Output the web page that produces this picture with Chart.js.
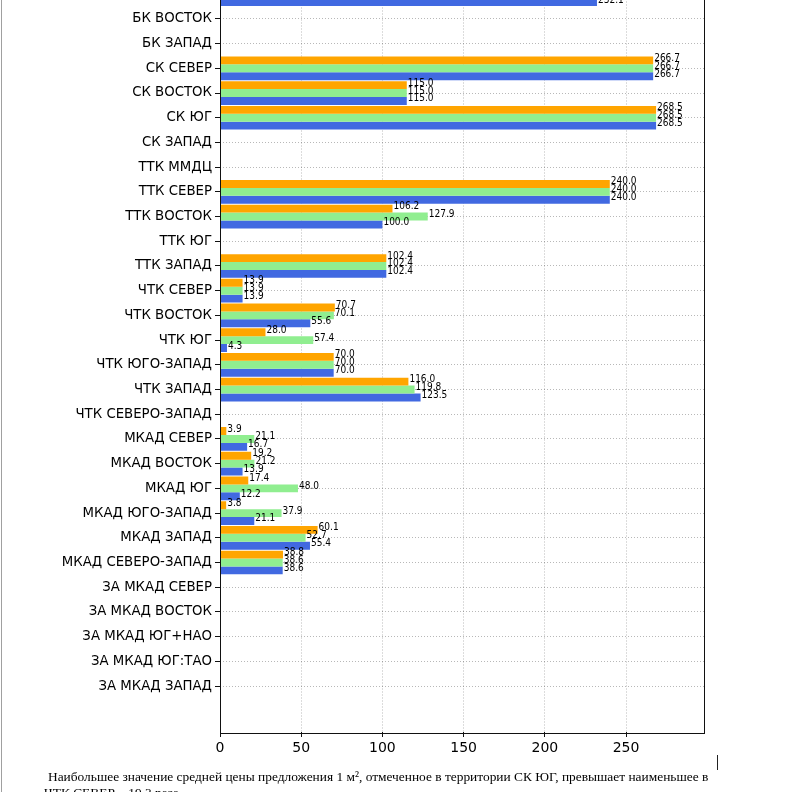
<!DOCTYPE html>
<html>
<head>
<meta charset="utf-8">
<script src="https://cdn.jsdelivr.net/npm/chart.js@4.4.1/dist/chart.umd.min.js"></script>
<style>
  html, body { margin: 0; padding: 0; background: #fff; }
  body { width: 792px; height: 792px; overflow: hidden; position: relative; }
  #wrap { position: absolute; left: 0; top: -80px; width: 792px; height: 880px; }
  #edge { position: absolute; left: 1px; top: 0; width: 1px; height: 792px; background: #a0a0a0; }
  #cursor { position: absolute; left: 717px; top: 755px; width: 1px; height: 15px; background: #222; }
  .note { position: absolute; font-family: "Liberation Serif", "Times New Roman", serif; font-size: 13.4px; color: #000; white-space: nowrap; }
</style>
</head>
<body>
<div id="edge"></div>
<div id="wrap"><canvas id="chart" width="792" height="880"></canvas></div>
<div id="cursor"></div>
<div class="note" style="left:48px; top:769px;">Наибольшее значение средней цены предложения 1 м², отмеченное в территории СК ЮГ, превышает наименьшее в</div>
<div class="note" style="left:44px; top:785px;">ЧТК СЕВЕР – 19,3 раза.</div>
<script>
// территории, сверху вниз
const names = [
  'БК СЕВЕР', 'БК ВОСТОК', 'БК ЗАПАД',
  'СК СЕВЕР', 'СК ВОСТОК', 'СК ЮГ', 'СК ЗАПАД',
  'ТТК ММДЦ', 'ТТК СЕВЕР', 'ТТК ВОСТОК', 'ТТК ЮГ', 'ТТК ЗАПАД',
  'ЧТК СЕВЕР', 'ЧТК ВОСТОК', 'ЧТК ЮГ', 'ЧТК ЮГО-ЗАПАД', 'ЧТК ЗАПАД', 'ЧТК СЕВЕРО-ЗАПАД',
  'МКАД СЕВЕР', 'МКАД ВОСТОК', 'МКАД ЮГ', 'МКАД ЮГО-ЗАПАД', 'МКАД ЗАПАД', 'МКАД СЕВЕРО-ЗАПАД',
  'ЗА МКАД СЕВЕР', 'ЗА МКАД ВОСТОК', 'ЗА МКАД ЮГ+НАО', 'ЗА МКАД ЮГ:ТАО', 'ЗА МКАД ЗАПАД'
];

const orangeVals = [
  null, null, null,
  266.7, 115.0, 268.5, null,
  null, 240.0, 106.2, null, 102.4,
  13.9, 70.7, 28.0, 70.0, 116.0, null,
  3.9, 19.2, 17.4, 3.8, 60.1, 38.8,
  null, null, null, null, null
];
const greenVals = [
  null, null, null,
  266.7, 115.0, 268.5, null,
  null, 240.0, 127.9, null, 102.4,
  13.9, 70.1, 57.4, 70.0, 119.8, null,
  21.1, 21.2, 48.0, 37.9, 52.7, 38.6,
  null, null, null, null, null
];
const blueVals = [
  232.1, null, null,
  266.7, 115.0, 268.5, null,
  null, 240.0, 100.0, null, 102.4,
  13.9, 55.6, 4.3, 70.0, 123.5, null,
  16.7, 13.9, 12.2, 21.1, 55.4, 38.6,
  null, null, null, null, null
];

const xTicks = [0, 50, 100, 150, 200, 250];
const xMax = 298;

const toPoints = (vals) => vals
  .map((v, i) => ({ x: v, y: i }))
  .filter(p => p.x !== null);

const font = '"DejaVu Sans", sans-serif';

// подписи значений справа от столбцов
const barLabels = {
  id: 'barLabels',
  afterDatasetsDraw(chart) {
    const ctx = chart.ctx;
    ctx.save();
    ctx.font = '10px "DejaVu Sans Condensed", "DejaVu Sans", sans-serif';
    ctx.fillStyle = '#000';
    ctx.textAlign = 'left';
    ctx.textBaseline = 'alphabetic';
    chart.data.datasets.forEach((ds, i) => {
      chart.getDatasetMeta(i).data.forEach((bar, j) => {
        ctx.fillText(ds.data[j].x.toFixed(1), bar.x + 1, bar.y + 0.5);
      });
    });
    ctx.restore();
  }
};

// рамка вокруг области графика
const frame = {
  id: 'frame',
  afterDatasetsDraw(chart) {
    const { ctx, chartArea: a } = chart;
    ctx.save();
    ctx.strokeStyle = '#111';
    ctx.lineWidth = 1;
    ctx.strokeRect(Math.round(a.left) + 0.5, Math.round(a.top) + 0.5,
      Math.round(a.right - a.left), Math.round(a.bottom - a.top));
    ctx.restore();
  }
};

const gridStyle = { color: 'rgba(0,0,0,0.28)', offset: false, tickLength: 5, tickColor: '#111', tickWidth: 1, tickBorderDash: [] };

new Chart(document.getElementById('chart').getContext('2d'), {
  type: 'bar',
  data: {
    datasets: [
      { label: 'Ряд 1', data: toPoints(orangeVals), backgroundColor: '#FFA500' },
      { label: 'Ряд 2', data: toPoints(greenVals), backgroundColor: '#90EE90' },
      { label: 'Ряд 3', data: toPoints(blueVals), backgroundColor: '#4169E1' }
    ]
  },
  options: {
    indexAxis: 'y',
    responsive: false,
    animation: false,
    layout: { padding: { top: 48.5, right: 88, bottom: 28, left: 0 } },
    datasets: { bar: { categoryPercentage: 0.96, barPercentage: 1.0 } },
    plugins: { legend: { display: false }, tooltip: { enabled: false } },
    scales: {
      x: {
        type: 'linear',
        position: 'bottom',
        min: 0,
        max: xMax,
        afterFit: (s) => { s.height = 40; },
        afterBuildTicks: (s) => { s.ticks = xTicks.map(v => ({ value: v })); },
        ticks: { color: '#000', padding: 3, font: { family: font, size: 14 }, callback: (v) => String(v) },
        grid: gridStyle,
        border: { display: false, dash: [1, 2] }
      },
      y: {
        type: 'linear',
        position: 'left',
        reverse: true,
        offset: false,
        min: -1.04,
        max: 29.86,
        afterFit: (s) => { s.width = 220; },
        afterBuildTicks: (s) => { s.ticks = names.map((_, i) => ({ value: i })); },
        ticks: {
          autoSkip: false,
          color: '#000',
          padding: 3,
          font: { family: font, size: 13.3 },
          callback: (v) => names[v]
        },
        grid: gridStyle,
        border: { display: false, dash: [1, 2] }
      }
    }
  },
  plugins: [barLabels, frame]
});
</script>
</body>
</html>
